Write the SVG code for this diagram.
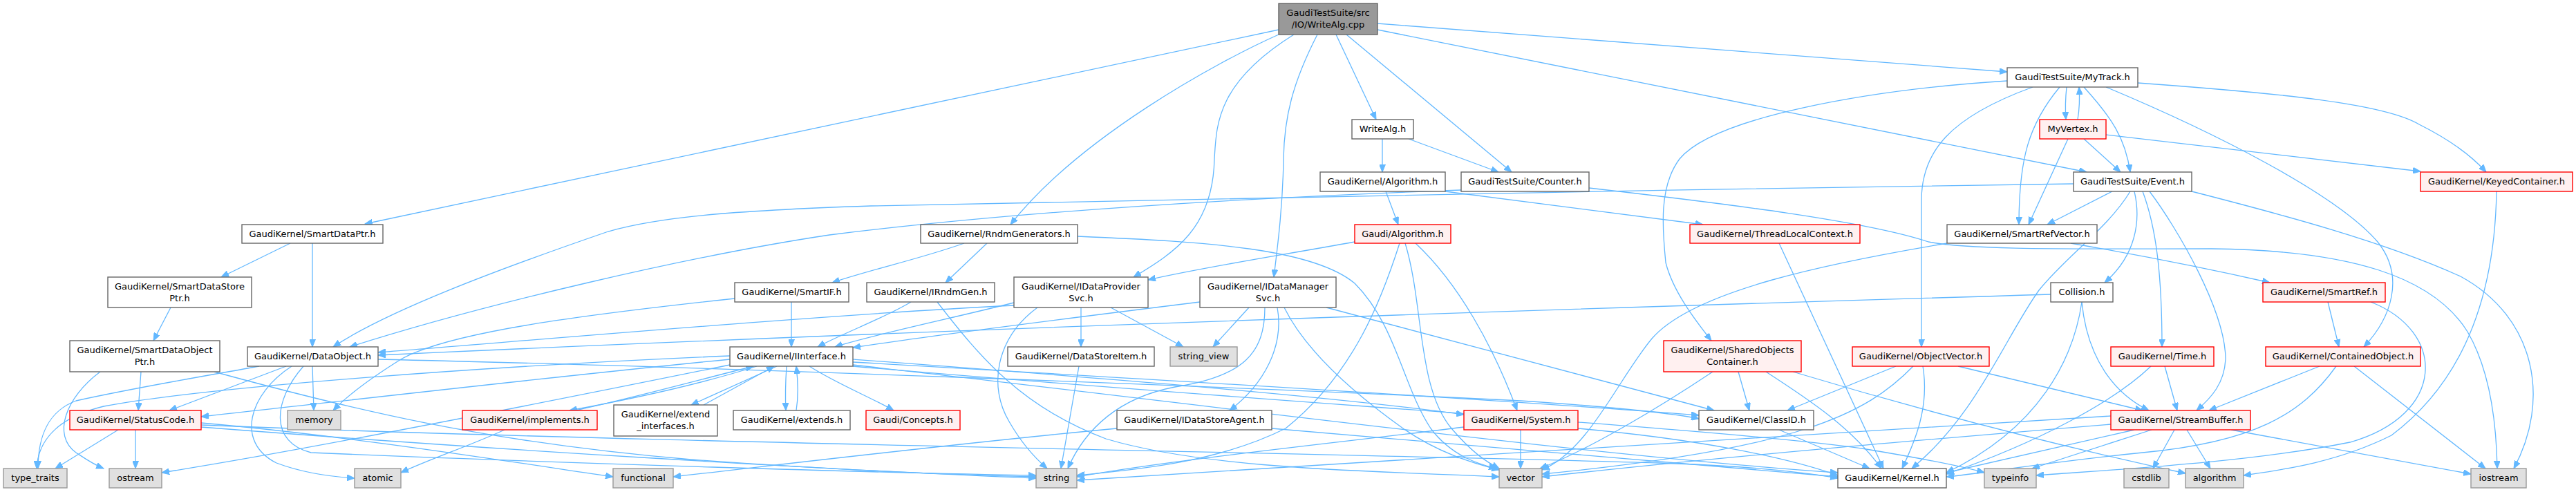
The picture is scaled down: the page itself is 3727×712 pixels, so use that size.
<svg xmlns="http://www.w3.org/2000/svg" width="3727" height="712" viewBox="0 0 3727 712">
<style>
.e{fill:none;stroke:#63b8ff;stroke-width:1.3;marker-end:url(#a)}
rect{stroke-width:1.4}
.w rect{fill:#fff;stroke:#666}
.r rect{fill:#fff0f0;stroke:#f00}
.g rect{fill:#e0e0e0;stroke:#999}
.root rect{fill:#999;stroke:#666}
text{font-family:"DejaVu Sans",sans-serif;font-size:13px;text-anchor:middle;fill:#000}
</style>
<defs>
<marker id="a" markerWidth="12" markerHeight="9" refX="11" refY="4.5" orient="auto" markerUnits="userSpaceOnUse"><path d="M0,0 L11,4.5 L0,9 z" fill="#63b8ff" stroke="#63b8ff" stroke-width="1"/></marker>
</defs>
<rect x="0" y="0" width="3727" height="712" fill="#fff" style="stroke:none"/>
<g id="edges">
<path class="e" d="M1850,43 L528,324"/>
<path class="e" d="M1850,50 C1760,90 1560,200 1462,325"/>
<path class="e" d="M1872,50 C1760,120 1760,180 1757,230 C1755,330 1700,365 1640,401"/>
<path class="e" d="M1906,50 C1870,120 1858,170 1857,230 C1856,300 1848,360 1843,401"/>
<path class="e" d="M1933,50 L1991,173"/>
<path class="e" d="M1948,50 L2187,249"/>
<path class="e" d="M1993,43 L3019,249"/>
<path class="e" d="M1993,34 L2904,104"/>
<path class="e" d="M2000,201 L2000,249"/>
<path class="e" d="M2038,201 L2168,249"/>
<path class="e" d="M2005,277 L2023,325"/>
<path class="e" d="M2091,277 L2464,325"/>
<path class="e" d="M2299,272 C2500,295 2700,320 2790,350 C2850,362 3000,360 3200,360 C3400,362 3520,400 3570,480 C3605,540 3612,620 3613,678"/>
<path class="e" d="M2990,126 C2988,145 2988,160 2989,173"/>
<path class="e" d="M3006,173 C3009,155 3009,140 3008,126"/>
<path class="e" d="M3015,126 C3055,170 3075,200 3082,249"/>
<path class="e" d="M3015,201 L3068,249"/>
<path class="e" d="M2980,126 C2935,180 2921,230 2921,325"/>
<path class="e" d="M2992,201 L2935,325"/>
<path class="e" d="M3056,277 L2962,325"/>
<path class="e" d="M2941,126 C2820,170 2780,220 2780,290 L2780,502"/>
<path class="e" d="M2904,117 C2700,130 2480,170 2430,230 C2400,270 2405,330 2410,380 C2420,420 2450,460 2476,493"/>
<path class="e" d="M3093,120 C3300,135 3450,150 3500,180 C3550,205 3580,230 3597,249"/>
<path class="e" d="M3047,126 C3200,190 3380,280 3440,350 C3480,400 3460,460 3420,502"/>
<path class="e" d="M3047,195 L3502,248"/>
<path class="e" d="M3000,266 C2400,275 1600,288 1260,298 C1050,305 950,315 880,335 C720,390 560,450 482,502"/>
<path class="e" d="M2114,275 C1700,290 1400,315 1200,340 C1000,370 700,440 506,502"/>
<path class="e" d="M1145,437 L1145,502"/>
<path class="e" d="M1318,437 C1280,460 1220,482 1183,502"/>
<path class="e" d="M1467,438 C1380,460 1260,485 1208,502"/>
<path class="e" d="M1736,437 C1550,460 1350,485 1234,503"/>
<path class="e" d="M1138,530 C1136,560 1136,575 1137,594"/>
<path class="e" d="M1152,594 C1155,575 1155,555 1152,530"/>
<path class="e" d="M1124,530 L1000,586"/>
<path class="e" d="M1018,586 L1120,530"/>
<path class="e" d="M1095,530 C1000,560 900,580 824,594"/>
<path class="e" d="M832,594 C920,575 1010,550 1090,530"/>
<path class="e" d="M1171,530 C1210,555 1260,575 1293,594"/>
<path class="e" d="M1056,520 C800,545 500,580 291,603"/>
<path class="e" d="M1056,528 C800,580 450,650 234,684"/>
<path class="e" d="M1056,515 C700,530 300,560 150,588 C80,605 55,640 53,678"/>
<path class="e" d="M1234,520 C1500,540 1900,570 2118,600"/>
<path class="e" d="M1234,524 C1600,545 2200,580 2458,601"/>
<path class="e" d="M1234,528 C1700,580 2300,660 2659,684"/>
<path class="e" d="M1234,530 C1800,580 2500,620 2700,650 C2790,665 2840,675 2871,684"/>
<path class="e" d="M2200,622 L2200,678"/>
<path class="e" d="M2118,618 C1900,645 1700,665 1558,690"/>
<path class="e" d="M2283,620 C2450,635 2580,660 2659,688"/>
<path class="e" d="M2574,622 L2705,678"/>
<path class="e" d="M171,622 L80,678"/>
<path class="e" d="M196,622 L196,678"/>
<path class="e" d="M291,612 C500,630 750,670 887,690"/>
<path class="e" d="M291,615 C900,640 1900,655 2400,670 C2550,675 2620,685 2659,692"/>
<path class="e" d="M291,618 C700,650 1200,680 1499,692"/>
<path class="e" d="M414,530 L245,594"/>
<path class="e" d="M452,530 L454,594"/>
<path class="e" d="M422,530 C360,570 340,640 400,670 C440,685 480,690 513,692"/>
<path class="e" d="M547,520 C1000,530 1800,560 2200,580 C2350,590 2420,598 2458,606"/>
<path class="e" d="M375,530 C320,540 200,560 110,580 C70,595 55,630 55,678"/>
<path class="e" d="M439,530 C395,580 390,640 450,655 C800,670 1300,685 1499,688"/>
<path class="e" d="M204,538 L200,594"/>
<path class="e" d="M145,538 C95,575 75,630 110,655 C125,665 135,672 150,678"/>
<path class="e" d="M310,538 C500,590 700,640 1000,665 C1200,680 1400,688 1499,690"/>
<path class="e" d="M420,352 L320,401"/>
<path class="e" d="M452,352 L452,502"/>
<path class="e" d="M247,445 L222,493"/>
<path class="e" d="M1428,352 L1368,409"/>
<path class="e" d="M1395,352 C1330,375 1260,390 1204,409"/>
<path class="e" d="M1559,342 C1750,350 1900,360 1960,410 C2020,470 2030,560 2070,620 C2100,660 2140,672 2165,678"/>
<path class="e" d="M1356,437 C1420,520 1480,590 1600,635 C1750,680 2000,682 2169,690"/>
<path class="e" d="M1564,445 L1564,502"/>
<path class="e" d="M1607,445 L1712,502"/>
<path class="e" d="M1501,445 C1440,490 1430,560 1460,610 C1480,645 1500,665 1515,678"/>
<path class="e" d="M1467,442 C1200,455 800,490 547,510"/>
<path class="e" d="M1561,530 L1535,678"/>
<path class="e" d="M1807,445 L1755,502"/>
<path class="e" d="M1830,445 C1830,510 1800,545 1700,560 C1620,575 1570,620 1545,678"/>
<path class="e" d="M1848,445 C1858,500 1830,555 1779,594"/>
<path class="e" d="M1858,445 C1890,510 1960,570 2030,620 C2080,655 2130,670 2169,680"/>
<path class="e" d="M1919,445 L2480,594"/>
<path class="e" d="M1960,350 C1850,370 1750,385 1661,405"/>
<path class="e" d="M2048,352 C2110,410 2160,500 2195,594"/>
<path class="e" d="M2033,352 C2060,440 2050,560 2100,620 C2130,655 2150,668 2169,678"/>
<path class="e" d="M2025,352 C2000,430 1960,540 1860,620 C1760,670 1640,680 1558,688"/>
<path class="e" d="M2574,352 L2725,678"/>
<path class="e" d="M2996,352 C3100,370 3200,390 3284,409"/>
<path class="e" d="M2817,352 C2650,380 2450,420 2390,490 C2340,550 2300,650 2231,680"/>
<path class="e" d="M3088,277 C3098,320 3090,370 3045,409"/>
<path class="e" d="M3100,277 C3120,330 3128,400 3128,502"/>
<path class="e" d="M3110,277 C3150,330 3220,450 3220,520 C3218,555 3200,575 3178,594"/>
<path class="e" d="M3171,277 C3300,310 3450,350 3560,400 C3670,460 3690,580 3637,678"/>
<path class="e" d="M3082,277 C3050,330 2990,370 2950,420 C2900,490 2860,600 2766,678"/>
<path class="e" d="M2967,426 C2500,440 1500,470 547,514"/>
<path class="e" d="M3012,437 C3000,520 2950,620 2816,684"/>
<path class="e" d="M3012,437 C3020,520 3060,570 3109,594"/>
<path class="e" d="M3368,437 L3384,502"/>
<path class="e" d="M3430,437 C3540,480 3540,600 3400,640 C3250,670 3050,680 2946,688"/>
<path class="e" d="M3356,530 L3196,594"/>
<path class="e" d="M3380,530 C3330,600 3260,640 3100,655 C2950,670 2870,685 2816,690"/>
<path class="e" d="M3406,530 L3596,678"/>
<path class="e" d="M3132,530 L3150,594"/>
<path class="e" d="M3112,530 C3060,580 2950,640 2816,686"/>
<path class="e" d="M3146,622 L3115,678"/>
<path class="e" d="M3164,622 L3198,678"/>
<path class="e" d="M3228,622 L3575,686"/>
<path class="e" d="M3088,622 L2816,684"/>
<path class="e" d="M3113,622 L2940,678"/>
<path class="e" d="M3054,602 C2700,620 2000,670 1558,695"/>
<path class="e" d="M3054,614 C2800,635 2500,660 2231,690"/>
<path class="e" d="M2743,530 L2586,594"/>
<path class="e" d="M2782,530 C2792,590 2770,640 2752,678"/>
<path class="e" d="M2768,530 C2700,600 2600,650 2231,686"/>
<path class="e" d="M2833,530 L3100,594"/>
<path class="e" d="M2515,538 L2531,594"/>
<path class="e" d="M2555,538 C2620,580 2680,620 2722,678"/>
<path class="e" d="M2594,538 C2800,600 3000,650 3162,685"/>
<path class="e" d="M2478,538 C2400,590 2300,650 2228,678"/>
<path class="e" d="M3612,277 C3610,400 3580,540 3460,630 C3380,670 3300,680 3246,688"/>
<path class="e" d="M1616,620 C1400,640 1150,670 974,690"/>
<path class="e" d="M1840,620 C2100,640 2400,670 2659,690"/>
<path class="e" d="M730,622 C680,645 620,665 580,684"/>
<path class="e" d="M1063,432 C850,455 650,480 580,520 C540,545 505,570 482,594"/>
</g>
<g id="n0" class="root"><rect x="1850" y="5" width="143" height="45"/><text x="1921.5" y="23">GaudiTestSuite/src</text><text x="1921.5" y="40">/IO/WriteAlg.cpp</text></g>
<g id="n1" class="w"><rect x="350" y="325" width="204" height="27"/><text x="452" y="343">GaudiKernel/SmartDataPtr.h</text></g>
<g id="n2" class="w"><rect x="1332" y="325" width="227" height="27"/><text x="1445.5" y="343">GaudiKernel/RndmGenerators.h</text></g>
<g id="n3" class="w"><rect x="1467" y="401" width="194" height="44"/><text x="1564" y="419">GaudiKernel/IDataProvider</text><text x="1564" y="436">Svc.h</text></g>
<g id="n4" class="w"><rect x="1736" y="401" width="197" height="44"/><text x="1834.5" y="419">GaudiKernel/IDataManager</text><text x="1834.5" y="436">Svc.h</text></g>
<g id="n5" class="w"><rect x="1956" y="173" width="89" height="28"/><text x="2000.5" y="191">WriteAlg.h</text></g>
<g id="n6" class="w"><rect x="2114" y="249" width="185" height="28"/><text x="2206.5" y="267">GaudiTestSuite/Counter.h</text></g>
<g id="n7" class="w"><rect x="3000" y="249" width="171" height="28"/><text x="3085.5" y="267">GaudiTestSuite/Event.h</text></g>
<g id="n8" class="w"><rect x="2904" y="98" width="189" height="28"/><text x="2998.5" y="116">GaudiTestSuite/MyTrack.h</text></g>
<g id="n9" class="r"><rect x="2951" y="173" width="96" height="28"/><text x="2999" y="191">MyVertex.h</text></g>
<g id="n10" class="w"><rect x="1910" y="249" width="181" height="28"/><text x="2000.5" y="267">GaudiKernel/Algorithm.h</text></g>
<g id="n11" class="r"><rect x="3502" y="249" width="220" height="28"/><text x="3612" y="267">GaudiKernel/KeyedContainer.h</text></g>
<g id="n12" class="r"><rect x="1960" y="325" width="139" height="27"/><text x="2029.5" y="343">Gaudi/Algorithm.h</text></g>
<g id="n13" class="r"><rect x="2445" y="325" width="246" height="27"/><text x="2568" y="343">GaudiKernel/ThreadLocalContext.h</text></g>
<g id="n14" class="w"><rect x="2817" y="325" width="217" height="27"/><text x="2925.5" y="343">GaudiKernel/SmartRefVector.h</text></g>
<g id="n15" class="w"><rect x="156" y="401" width="208" height="44"/><text x="260" y="419">GaudiKernel/SmartDataStore</text><text x="260" y="436">Ptr.h</text></g>
<g id="n16" class="w"><rect x="1063" y="409" width="165" height="28"/><text x="1145.5" y="427">GaudiKernel/SmartIF.h</text></g>
<g id="n17" class="w"><rect x="1254" y="409" width="185" height="28"/><text x="1346.5" y="427">GaudiKernel/IRndmGen.h</text></g>
<g id="n18" class="w"><rect x="2967" y="409" width="90" height="28"/><text x="3012" y="427">Collision.h</text></g>
<g id="n19" class="r"><rect x="3274" y="409" width="177" height="28"/><text x="3362.5" y="427">GaudiKernel/SmartRef.h</text></g>
<g id="n20" class="w"><rect x="101" y="493" width="217" height="45"/><text x="209.5" y="511">GaudiKernel/SmartDataObject</text><text x="209.5" y="528">Ptr.h</text></g>
<g id="n21" class="w"><rect x="358" y="502" width="189" height="28"/><text x="452.5" y="520">GaudiKernel/DataObject.h</text></g>
<g id="n22" class="w"><rect x="1056" y="502" width="178" height="28"/><text x="1145" y="520">GaudiKernel/IInterface.h</text></g>
<g id="n23" class="w"><rect x="1458" y="502" width="212" height="28"/><text x="1564" y="520">GaudiKernel/DataStoreItem.h</text></g>
<g id="n24" class="g"><rect x="1693" y="502" width="97" height="28"/><text x="1741.5" y="520">string_view</text></g>
<g id="n25" class="r"><rect x="2407" y="493" width="199" height="45"/><text x="2506.5" y="511">GaudiKernel/SharedObjects</text><text x="2506.5" y="528">Container.h</text></g>
<g id="n26" class="r"><rect x="2680" y="502" width="198" height="28"/><text x="2779" y="520">GaudiKernel/ObjectVector.h</text></g>
<g id="n27" class="r"><rect x="3054" y="502" width="149" height="28"/><text x="3128.5" y="520">GaudiKernel/Time.h</text></g>
<g id="n28" class="r"><rect x="3278" y="502" width="224" height="28"/><text x="3390" y="520">GaudiKernel/ContainedObject.h</text></g>
<g id="n29" class="r"><rect x="101" y="594" width="190" height="28"/><text x="196" y="612">GaudiKernel/StatusCode.h</text></g>
<g id="n30" class="g"><rect x="416" y="594" width="77" height="28"/><text x="454.5" y="612">memory</text></g>
<g id="n31" class="r"><rect x="669" y="594" width="195" height="28"/><text x="766.5" y="612">GaudiKernel/implements.h</text></g>
<g id="n32" class="w"><rect x="888" y="586" width="150" height="45"/><text x="963" y="604">GaudiKernel/extend</text><text x="963" y="621">_interfaces.h</text></g>
<g id="n33" class="w"><rect x="1061" y="594" width="169" height="28"/><text x="1145.5" y="612">GaudiKernel/extends.h</text></g>
<g id="n34" class="r"><rect x="1253" y="594" width="136" height="28"/><text x="1321" y="612">Gaudi/Concepts.h</text></g>
<g id="n35" class="w"><rect x="1616" y="594" width="224" height="28"/><text x="1728" y="612">GaudiKernel/IDataStoreAgent.h</text></g>
<g id="n36" class="r"><rect x="2118" y="594" width="165" height="28"/><text x="2200.5" y="612">GaudiKernel/System.h</text></g>
<g id="n37" class="w"><rect x="2458" y="594" width="166" height="28"/><text x="2541" y="612">GaudiKernel/ClassID.h</text></g>
<g id="n38" class="r"><rect x="3054" y="594" width="202" height="28"/><text x="3155" y="612">GaudiKernel/StreamBuffer.h</text></g>
<g id="n39" class="g"><rect x="5" y="678" width="92" height="28"/><text x="51" y="696">type_traits</text></g>
<g id="n40" class="g"><rect x="158" y="678" width="76" height="28"/><text x="196" y="696">ostream</text></g>
<g id="n41" class="g"><rect x="513" y="678" width="67" height="28"/><text x="546.5" y="696">atomic</text></g>
<g id="n42" class="g"><rect x="887" y="678" width="87" height="28"/><text x="930.5" y="696">functional</text></g>
<g id="n43" class="g"><rect x="1499" y="678" width="59" height="28"/><text x="1528.5" y="696">string</text></g>
<g id="n44" class="g"><rect x="2169" y="678" width="62" height="28"/><text x="2200" y="696">vector</text></g>
<g id="n45" class="w"><rect x="2659" y="678" width="157" height="28"/><text x="2737.5" y="696">GaudiKernel/Kernel.h</text></g>
<g id="n46" class="g"><rect x="2871" y="678" width="75" height="28"/><text x="2908.5" y="696">typeinfo</text></g>
<g id="n47" class="g"><rect x="3073" y="678" width="65" height="28"/><text x="3105.5" y="696">cstdlib</text></g>
<g id="n48" class="g"><rect x="3162" y="678" width="84" height="28"/><text x="3204" y="696">algorithm</text></g>
<g id="n49" class="g"><rect x="3575" y="678" width="80" height="28"/><text x="3615" y="696">iostream</text></g>
</svg>
